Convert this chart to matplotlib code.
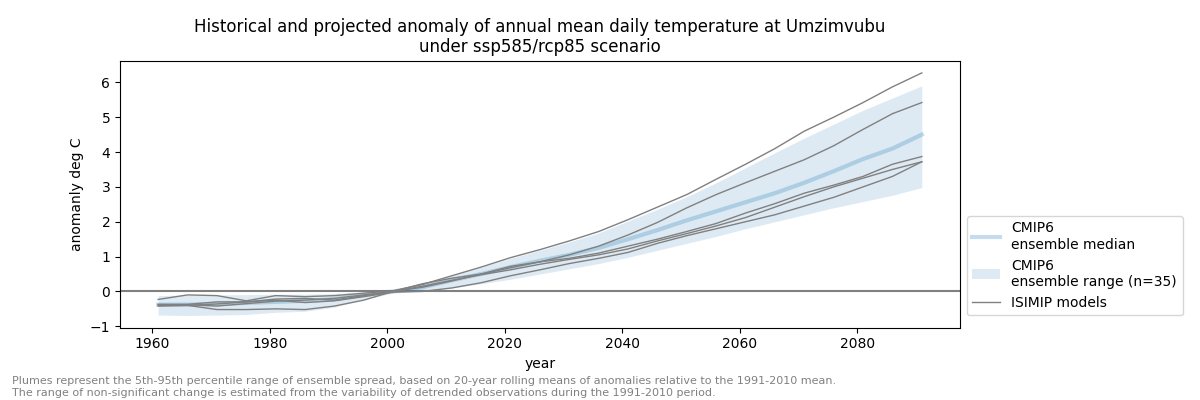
import numpy as np
import matplotlib
matplotlib.use('Agg')
import matplotlib.pyplot as plt

# values, every 5 years
years = [1961, 1966, 1971, 1976, 1981, 1986, 1991, 1996, 2001, 2006, 2011, 2016, 2021,
         2026, 2031, 2036, 2041, 2046, 2051, 2056, 2061, 2066, 2071, 2076, 2081, 2086, 2091]

cmip6_median = [-0.38, -0.38, -0.36, -0.33, -0.30, -0.27, -0.22, -0.10, 0.00, 0.12, 0.32, 0.50, 0.70,
                0.88, 1.05, 1.25, 1.50, 1.76, 2.04, 2.30, 2.56, 2.82, 3.12, 3.45, 3.80, 4.10, 4.50]
cmip6_low = [-0.68, -0.69, -0.68, -0.66, -0.60, -0.57, -0.45, -0.22, -0.05, 0.02, 0.10, 0.22, 0.35,
             0.50, 0.65, 0.80, 0.98, 1.18, 1.38, 1.58, 1.80, 2.00, 2.20, 2.40, 2.58, 2.76, 2.98]
cmip6_high = [-0.12, -0.10, -0.10, -0.09, -0.08, -0.08, -0.06, -0.02, 0.05, 0.22, 0.45, 0.70, 0.95,
              1.18, 1.42, 1.68, 2.02, 2.36, 2.72, 3.12, 3.55, 3.98, 4.40, 4.80, 5.20, 5.55, 5.90]

isimip_a = [-0.23, -0.10, -0.12, -0.27, -0.12, -0.15, -0.12, -0.05, 0.02, 0.20, 0.45, 0.70, 0.97,
            1.20, 1.45, 1.72, 2.06, 2.42, 2.78, 3.22, 3.65, 4.10, 4.60, 5.00, 5.42, 5.87, 6.27]
isimip_b = [-0.38, -0.37, -0.30, -0.30, -0.22, -0.20, -0.25, -0.12, 0.00, 0.12, 0.30, 0.50, 0.68,
            0.85, 1.05, 1.30, 1.62, 1.98, 2.40, 2.78, 3.12, 3.45, 3.78, 4.18, 4.65, 5.10, 5.42]
isimip_c = [-0.40, -0.40, -0.52, -0.52, -0.50, -0.52, -0.42, -0.25, 0.00, 0.22, 0.38, 0.50, 0.72,
            0.85, 0.95, 1.10, 1.30, 1.50, 1.72, 1.95, 2.25, 2.52, 2.82, 3.05, 3.30, 3.65, 3.87]
isimip_d = [-0.37, -0.38, -0.42, -0.35, -0.28, -0.25, -0.20, -0.10, 0.00, 0.15, 0.32, 0.48, 0.62,
            0.78, 0.92, 1.05, 1.22, 1.45, 1.66, 1.88, 2.12, 2.42, 2.72, 3.00, 3.25, 3.50, 3.72]
isimip_e = [-0.42, -0.40, -0.36, -0.30, -0.25, -0.32, -0.27, -0.15, -0.02, 0.00, 0.10, 0.25, 0.45,
            0.62, 0.80, 0.95, 1.12, 1.38, 1.60, 1.80, 2.00, 2.20, 2.45, 2.70, 3.00, 3.30, 3.72]
isimip = [isimip_a, isimip_b, isimip_c, isimip_d, isimip_e]

fig = plt.figure(figsize=(12, 4), dpi=100)
ax = fig.add_axes([0.1, 0.181, 0.7, 0.667])

ax.axhline(0, color='gray', linewidth=1.5, zorder=1)
ax.fill_between(years, cmip6_low, cmip6_high, color='C0', alpha=0.15, linewidth=0,
                label='CMIP6\nensemble range (n=35)', zorder=2)
ax.plot(years, cmip6_median, color='C0', alpha=0.25, linewidth=3,
        label='CMIP6\nensemble median', zorder=3)
for i, y in enumerate(isimip):
    ax.plot(years, y, color='gray', linewidth=1, zorder=4,
            label='ISIMIP models' if i == 0 else None)

ax.set_yticks(range(-1, 7))
ax.set_xlabel('year')
ax.set_ylabel('anomanly deg C')
ax.set_title('Historical and projected anomaly of annual mean daily temperature at Umzimvubu\n'
             'under ssp585/rcp85 scenario', fontsize=12)

h, l = ax.get_legend_handles_labels()
order = [1, 0, 2]
ax.legend([h[i] for i in order], [l[i] for i in order],
          loc='lower left', bbox_to_anchor=(1.0, 0.02), fontsize=10)

fig.text(0.01, 0.005,
         'Plumes represent the 5th-95th percentile range of ensemble spread, based on 20-year rolling '
         'means of anomalies relative to the 1991-2010 mean.\n'
         'The range of non-significant change is estimated from the variability of detrended '
         'observations during the 1991-2010 period.',
         fontsize=8, color='gray', ha='left', va='bottom')

fig.savefig('out.png', dpi=100)
